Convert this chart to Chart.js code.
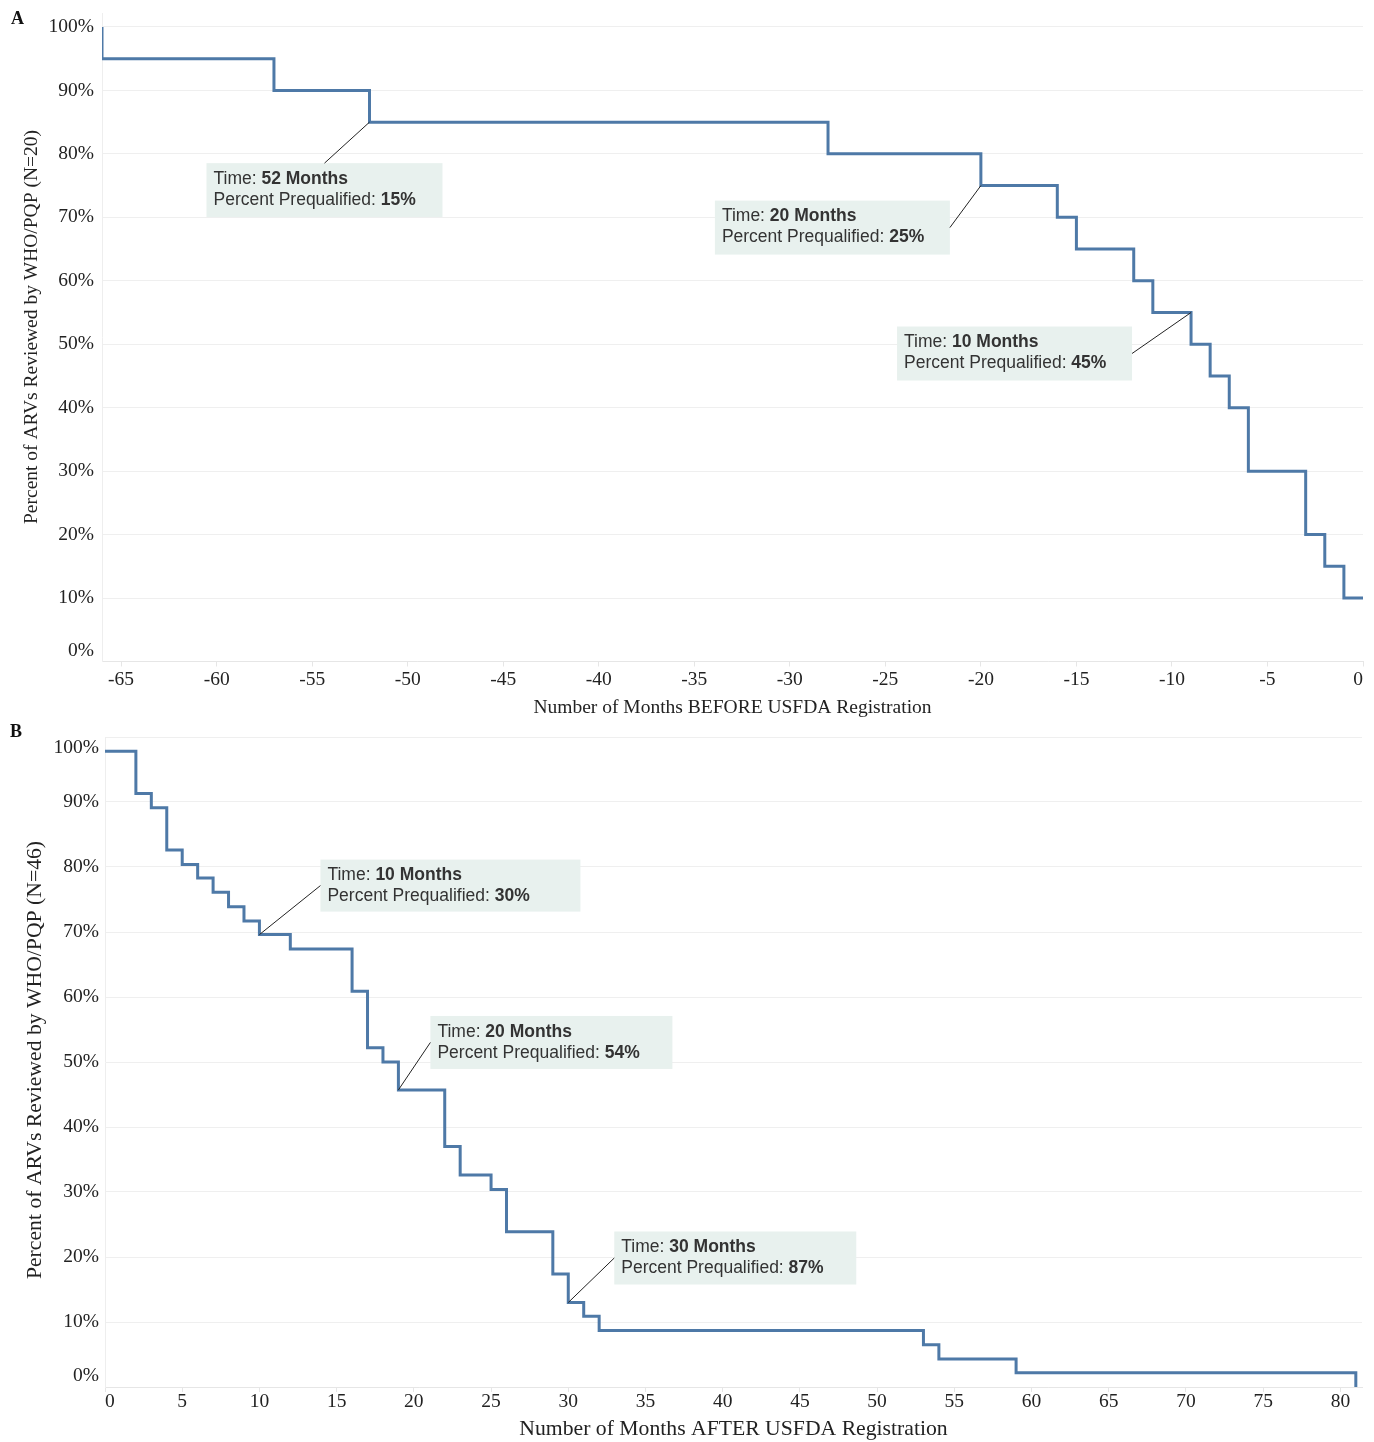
<!DOCTYPE html>
<html>
<head>
<meta charset="utf-8">
<script src="https://cdn.jsdelivr.net/npm/chart.js@4.4.1/dist/chart.umd.min.js"></script>
<style>
  body { margin: 0; background: #fff; }
  #wrap { position: relative; width: 1374px; height: 1442px; }
  .panel { position: absolute; left: 0; }
  .letter { position: absolute; font: bold 18px "Liberation Serif", serif; color: #111; }
</style>
</head>
<body>
<div id="wrap">
  <canvas id="chartA" class="panel" width="1374" height="722" style="top:0px"></canvas>
  <canvas id="chartB" class="panel" width="1374" height="720" style="top:722px"></canvas>
  <div class="letter" style="left:11px;top:8px">A</div>
  <div class="letter" style="left:10px;top:721px">B</div>
</div>
<script>
// panel A: months before USFDA registration
var monthsBefore = [-66, -66, -57, -52, -28, -20, -16, -15, -12, -11, -9, -8, -7, -6, -3, -2, -1, 0];
var pctBefore = [100, 95, 90, 85, 80, 75, 70, 65, 60, 55, 50, 45, 40, 30, 20, 15, 10, 10];
var tickMonthsBefore = [-65, -60, -55, -50, -45, -40, -35, -30, -25, -20, -15, -10, -5, 0];

// panel B: months after USFDA registration
var monthsAfter = [0, 2, 3, 4, 5, 6, 7, 8, 9, 10, 12, 16, 17, 18, 19, 22, 23, 25, 26, 29, 30, 31, 32, 53, 54, 59, 81];
var pctAfter = [97.8, 91.3, 89.1, 82.6, 80.4, 78.3, 76.1, 73.9, 71.7, 69.6, 67.4, 60.9, 52.2, 50.0, 45.7, 37.0, 32.6, 30.4, 23.9, 17.4, 13.0, 10.9, 8.7, 6.5, 4.3, 2.2, 0];
var tickMonthsAfter = [0, 5, 10, 15, 20, 25, 30, 35, 40, 45, 50, 55, 60, 65, 70, 75, 80];

var tickPct = [0, 10, 20, 30, 40, 50, 60, 70, 80, 90, 100];

// annotations
var noteMonthsBefore = [-52, -20, -9];
var notePctBefore = [85, 75, 55];
var noteTimeBefore = ["52 Months", "20 Months", "10 Months"];
var notePrequalBefore = ["15%", "25%", "45%"];

var noteMonthsAfter = [10, 19, 30];
var notePctAfter = [69.6, 45.7, 13.0];
var noteTimeAfter = ["10 Months", "20 Months", "30 Months"];
var notePrequalAfter = ["30%", "54%", "87%"];

// box placement relative to the annotated point (pixels)
var boxesBefore = [
  {dx: -163, dy: 41, w: 236, h: 54, fx: 0.5, fy: 0},
  {dx: -266, dy: 15, w: 235, h: 54, fx: 1, fy: 0.5},
  {dx: -294, dy: 14, w: 235, h: 54, fx: 1, fy: 0.5}
];
var boxesAfter = [
  {dx: 61, dy: -75, w: 260, h: 52, fx: 0, fy: 0.5},
  {dx: 32, dy: -74, w: 242, h: 53, fx: 0, fy: 0.5},
  {dx: 46, dy: -71, w: 242, h: 53, fx: 0, fy: 0.5}
];

var serif = "'Liberation Serif', 'DejaVu Serif', serif";
var sans = "'Liberation Sans', Arial, sans-serif";
var textColor = "#222";

var pluginExtra = {
  id: 'extra',
  afterDraw: function(chart)
  {
    var cfg = chart.options.plugins.extra;
    var ctx = chart.ctx;
    var area = chart.chartArea;
    var xs = chart.scales.x;
    var ys = chart.scales.y;
    ctx.save();

    // y tick labels, kept inside the pane like the original
    ctx.font = "19.5px " + serif;
    ctx.fillStyle = textColor;
    ctx.textAlign = 'right';
    ctx.textBaseline = 'middle';
    tickPct.forEach(function(v)
    {
      var y = ys.getPixelForValue(v);
      y = Math.max(area.top + 11, Math.min(area.bottom - 11, y));
      ctx.fillText(v + "%", area.left - cfg.yGap, y);
    });

    // x tick labels
    ctx.textAlign = 'center';
    cfg.xTicks.forEach(function(v)
    {
      var w = ctx.measureText(String(v)).width;
      var x = xs.getPixelForValue(v);
      x = Math.max(area.left + w / 2, Math.min(area.right - w / 2, x));
      ctx.fillText(String(v), x, area.bottom + cfg.xLabelOffset);
    });

    // rotated y title
    ctx.save();
    ctx.translate(cfg.yTitleX, cfg.yTitleY);
    ctx.rotate(-Math.PI / 2);
    ctx.font = cfg.titleSize + "px " + serif;
    ctx.fillText(cfg.yTitle, 0, 0);
    ctx.restore();

    // annotation boxes
    for (var i = 0; i < cfg.noteMonths.length; i++)
    {
      var px = xs.getPixelForValue(cfg.noteMonths[i]);
      var py = ys.getPixelForValue(cfg.notePct[i]);
      var b = cfg.boxes[i];
      var bx = px + b.dx;
      var by = py + b.dy;
      ctx.fillStyle = "#e8f1ee";
      ctx.fillRect(bx, by, b.w, b.h);
      ctx.strokeStyle = "#222";
      ctx.lineWidth = 1;
      ctx.beginPath();
      ctx.moveTo(px, py);
      ctx.lineTo(bx + b.fx * b.w, by + b.fy * b.h);
      ctx.stroke();

      ctx.textAlign = 'left';
      ctx.textBaseline = 'middle';
      ctx.fillStyle = "#333";
      var tx = bx + 7;
      ctx.font = "17.5px " + sans;
      ctx.fillText("Time: ", tx, by + 16);
      var w1 = ctx.measureText("Time: ").width;
      ctx.fillText("Percent Prequalified: ", tx, by + 37);
      var w2 = ctx.measureText("Percent Prequalified: ").width;
      ctx.font = "bold 17.5px " + sans;
      ctx.fillText(cfg.noteTime[i], tx + w1, by + 16);
      ctx.fillText(cfg.notePrequal[i], tx + w2, by + 37);
    }
    ctx.restore();
  }
};

function drawChart(idCanvas, months, pct, cfg)
{
  var points = months.map(function(m, i) { return {x: m, y: pct[i]}; });
  return new Chart(document.getElementById(idCanvas),
  {
    type: 'line',
    data:
    {
      datasets:
      [
        {
          data: points,
          stepped: true,
          borderColor: "#4e79a7",
          borderWidth: 3,
          pointRadius: 0,
          fill: false
        }
      ]
    },
    options:
    {
      responsive: false,
      animation: false,
      layout: { padding: cfg.padding },
      plugins:
      {
        legend: { display: false },
        tooltip: { enabled: false },
        extra: cfg
      },
      scales:
      {
        x:
        {
          type: 'linear',
          min: cfg.xMin,
          max: cfg.xMax,
          afterBuildTicks: function(s) { s.ticks = cfg.xTicks.map(function(v) { return {value: v}; }); },
          afterFit: function(s) { s.height = cfg.xHeight; },
          grid: { drawOnChartArea: false, drawTicks: true, tickLength: 5, color: "#e6e6e6" },
          border: { color: "#e6e6e6" },
          ticks: { display: false },
          title:
          {
            display: true,
            text: cfg.xTitle,
            color: textColor,
            font: { family: serif, size: cfg.titleSize },
            padding: { top: 0, bottom: cfg.xTitlePad }
          }
        },
        y:
        {
          min: 0,
          max: cfg.yMax,
          afterBuildTicks: function(s) { s.ticks = tickPct.map(function(v) { return {value: v}; }); },
          afterFit: function(s) { s.width = cfg.yWidth; },
          grid: { color: "#efefef", drawTicks: false },
          border: { color: "#eeeeee" },
          ticks: { display: false },
          title: { display: false }
        }
      }
    },
    plugins: [pluginExtra]
  });
}

drawChart("chartA", monthsBefore, pctBefore,
{
  padding: { left: 0, top: 13, right: 11, bottom: 0 },
  xMin: -66, xMax: 0, xTicks: tickMonthsBefore, xHeight: 60.5, xLabelOffset: 18, xTitlePad: 2,
  xTitle: "Number of Months BEFORE USFDA Registration",
  yMax: 102.2, yWidth: 102, yGap: 8, titleSize: 19.5, yTitleX: 32, yTitleY: 327,
  yTitle: "Percent of ARVs Reviewed by WHO/PQP (N=20)",
  noteMonths: noteMonthsBefore, notePct: notePctBefore, noteTime: noteTimeBefore, notePrequal: notePrequalBefore,
  boxes: boxesBefore
});

drawChart("chartB", monthsAfter, pctAfter,
{
  padding: { left: 0, top: 15, right: 12, bottom: 0 },
  xMin: 0, xMax: 81.4, xTicks: tickMonthsAfter, xHeight: 55, xLabelOffset: 15, xTitlePad: 0,
  xTitle: "Number of Months AFTER USFDA Registration",
  yMax: 100, yWidth: 105, yGap: 6, titleSize: 21.7, yTitleX: 35, yTitleY: 338,
  yTitle: "Percent of ARVs Reviewed by WHO/PQP (N=46)",
  noteMonths: noteMonthsAfter, notePct: notePctAfter, noteTime: noteTimeAfter, notePrequal: notePrequalAfter,
  boxes: boxesAfter
});
</script>
</body>
</html>
